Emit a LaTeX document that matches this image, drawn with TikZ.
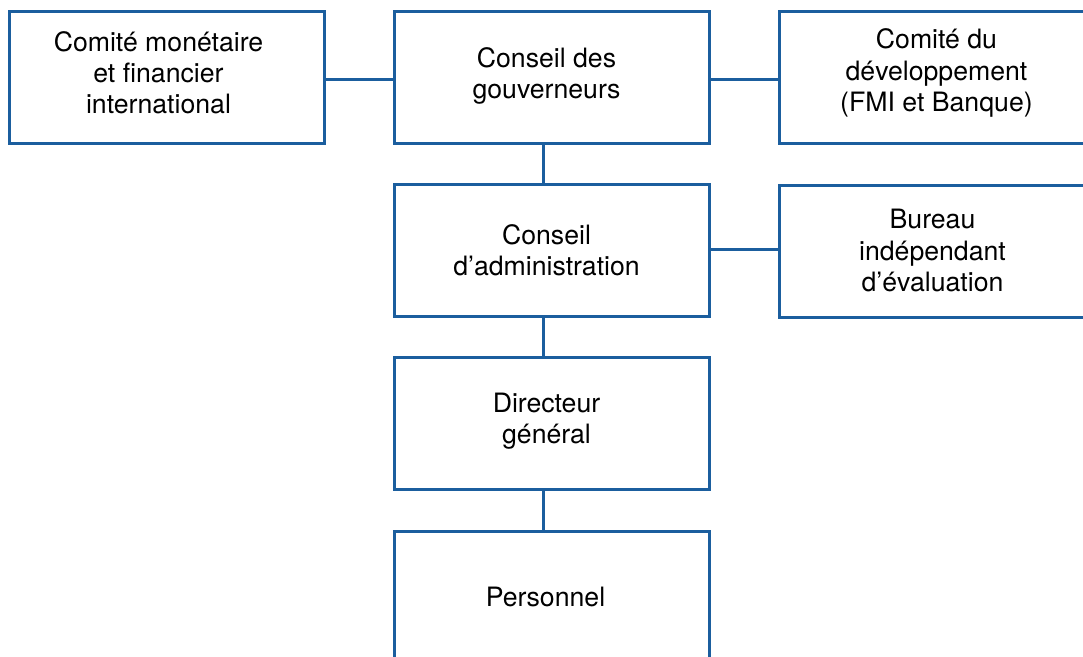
\documentclass[tikz,border=0pt]{standalone}
\usepackage{fontspec}
\setmainfont{TeX Gyre Heros}
\usetikzlibrary{calc}
\definecolor{imfblue}{RGB}{27,94,158}
\tikzset{
  box/.style={draw=imfblue, line width=2.25pt, minimum width=236.25pt, minimum height=99pt, inner sep=0pt},
  lbl/.style={align=center, font=\fontsize{20pt}{23.4pt}\selectfont, text=black, inner sep=0pt},
  link/.style={draw=imfblue, line width=2.25pt}
}
\begin{document}
\begin{tikzpicture}[x=0.75pt,y=-0.75pt]
\clip (0,0) rectangle (1083,657);
\useasboundingbox (0,0) rectangle (1083,657);
\node[box] (cmfi) at (166.5,77) {};
\node[box] (cg) at (551.5,77) {};
\node[box] (cd) at (936.5,77) {};
\node[box] (ca) at (551.5,250.5) {};
\node[box] (bie) at (936.5,251.5) {};
\node[box] (dg) at (551.5,423.5) {};
\node[box] (pers) at (551.5,597) {};
\coordinate (spine) at (543,0);
\coordinate (row1) at (0,79);
\coordinate (row2) at (0,249);
\node[lbl] (tcmfi) at ($(cmfi.center)+(-8,-4)$) {Comité monétaire\\et financier\\international};
\node[lbl] (tcg) at ($(cg.center)+(-5,-1)$) {Conseil des\\gouverneurs};
\node[lbl] (tcd) at ($(cd.center)+(0,-4)$) {Comité du\\développement\\(FMI et Banque)};
\node[lbl] (tca) at ($(ca.center)+(-5,0)$) {Conseil\\d’administration};
\node[lbl] (tbie) at ($(bie.center)+(-4,-1)$) {Bureau\\indépendant\\d’évaluation};
\node[lbl] (tdg) at ($(dg.center)+(-5,-2)$) {Directeur\\général};
\node[lbl] (tpers) at ($(pers.center)+(-6,0)$) {Personnel};
\draw[link] (cmfi.east |- row1) -- (cg.west |- row1);
\draw[link] (cg.east |- row1) -- (cd.west |- row1);
\draw[link] (cg.south -| spine) -- (ca.north -| spine);
\draw[link] (ca.east |- row2) -- (bie.west |- row2);
\draw[link] (ca.south -| spine) -- (dg.north -| spine);
\draw[link] (dg.south -| spine) -- (pers.north -| spine);
\end{tikzpicture}
\end{document}
